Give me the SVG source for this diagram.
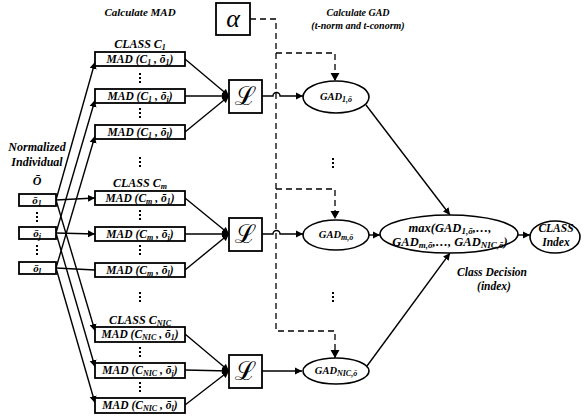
<svg xmlns="http://www.w3.org/2000/svg" width="586" height="419" viewBox="0 0 586 419">
<defs>
<marker id="ah" markerWidth="8" markerHeight="8" refX="7" refY="4" orient="auto" markerUnits="userSpaceOnUse">
<path d="M0,0.5 L7,4 L0,7.5 Z" fill="#000"/>
</marker>
<style>
text{font-family:'Liberation Serif','DejaVu Serif','Noto Serif',serif;font-weight:bold;font-style:italic;fill:#000}
.lbl{font-size:11px}
.mad{font-size:11.5px;text-anchor:middle}
.sub{font-size:8px}
.box{fill:#fff;stroke:#000;stroke-width:1.8}
.ell{fill:#fff;stroke:#000;stroke-width:1.6}
.ln{fill:none;stroke:#000;stroke-width:1.4}
.dash{fill:none;stroke:#000;stroke-width:1.3;stroke-dasharray:6,4}
.dots{stroke:#000;stroke-width:2;stroke-dasharray:2,2}
</style>
</defs>
<rect width="586" height="419" fill="#fff"/>

<!-- headings -->
<text class="lbl" x="140" y="16" text-anchor="middle">Calculate MAD</text>
<text class="lbl" x="358" y="16" text-anchor="middle" style="font-size:10px">Calculate GAD</text>
<text class="lbl" x="358" y="29" text-anchor="middle" style="font-size:10px">(t-norm and t-conorm)</text>
<text class="lbl" x="37" y="151" text-anchor="middle" style="font-size:12px">Normalized</text>
<text class="lbl" x="37" y="166" text-anchor="middle" style="font-size:12px">Individual</text>
<text class="lbl" x="37" y="185" text-anchor="middle" style="font-size:12px">Ō</text>
<text class="lbl" x="492" y="276" text-anchor="middle" style="font-size:11.5px">Class Decision</text>
<text class="lbl" x="494" y="290" text-anchor="middle" style="font-size:11.5px">(index)</text>

<!-- dots -->
<g id="dots">
<line class="dots" x1="37" y1="212" x2="37" y2="224"/>
<line class="dots" x1="37" y1="245" x2="37" y2="257"/>
<line class="dots" x1="140" y1="73" x2="140" y2="85"/>
<line class="dots" x1="140" y1="108" x2="140" y2="120"/>
<line class="dots" x1="140" y1="157" x2="140" y2="169"/>
<line class="dots" x1="140" y1="210" x2="140" y2="222"/>
<line class="dots" x1="140" y1="245" x2="140" y2="257"/>
<line class="dots" x1="140" y1="292" x2="140" y2="304"/>
<line class="dots" x1="140" y1="347" x2="140" y2="359"/>
<line class="dots" x1="140" y1="382" x2="140" y2="394"/>
<line class="dots" x1="333" y1="158" x2="333" y2="170"/>
<line class="dots" x1="333" y1="292" x2="333" y2="304"/>
</g>

<!-- connectors -->
<g id="connectors">
<line class="ln" x1="56" y1="200" x2="95" y2="62" marker-end="url(#ah)"/>
<line class="ln" x1="56" y1="233" x2="95" y2="100" marker-end="url(#ah)"/>
<line class="ln" x1="56" y1="268" x2="95" y2="136" marker-end="url(#ah)"/>
<line class="ln" x1="56" y1="200" x2="95" y2="198" marker-end="url(#ah)"/>
<line class="ln" x1="56" y1="233" x2="95" y2="234" marker-end="url(#ah)"/>
<line class="ln" x1="56" y1="268" x2="95" y2="270"/>
<line class="ln" x1="56" y1="200" x2="95" y2="331" marker-end="url(#ah)"/>
<line class="ln" x1="56" y1="233" x2="95" y2="367" marker-end="url(#ah)"/>
<line class="ln" x1="56" y1="268" x2="95" y2="403" marker-end="url(#ah)"/>

<line class="ln" x1="185" y1="59" x2="229" y2="96" marker-end="url(#ah)"/>
<line class="ln" x1="185" y1="96" x2="229" y2="96" marker-end="url(#ah)"/>
<line class="ln" x1="185" y1="132" x2="229" y2="96" marker-end="url(#ah)"/>
<line class="ln" x1="185" y1="198" x2="229" y2="234" marker-end="url(#ah)"/>
<line class="ln" x1="185" y1="234" x2="229" y2="234" marker-end="url(#ah)"/>
<line class="ln" x1="185" y1="270" x2="229" y2="234" marker-end="url(#ah)"/>
<line class="ln" x1="185" y1="334" x2="229" y2="371" marker-end="url(#ah)"/>
<line class="ln" x1="185" y1="370" x2="229" y2="371" marker-end="url(#ah)"/>
<line class="ln" x1="185" y1="405" x2="229" y2="371" marker-end="url(#ah)"/>

<path class="ln" d="M262,96 H273 a3.5,3.5 0 0 1 7,0 H303" marker-end="url(#ah)"/>
<path class="ln" d="M262,234 H273 a3.5,3.5 0 0 1 7,0 H303" marker-end="url(#ah)"/>
<path class="ln" d="M262,371 H302" marker-end="url(#ah)"/>

<path class="dash" d="M250,19 H276 V331 H335 V358"/>
<path class="dash" d="M276,53 H335 V81"/>
<path class="dash" d="M276,189 H335 V219"/>
<path d="M330.5,73 L339.5,73 L335,81 Z" fill="#000"/>
<path d="M330.5,211 L339.5,211 L335,219 Z" fill="#000"/>
<path d="M330.5,350 L339.5,350 L335,358 Z" fill="#000"/>

<line class="ln" x1="366" y1="105" x2="450" y2="215" marker-end="url(#ah)"/>
<line class="ln" x1="369" y1="235" x2="380" y2="235" marker-end="url(#ah)"/>
<line class="ln" x1="367" y1="366" x2="450" y2="253" marker-end="url(#ah)"/>
<line class="ln" x1="518" y1="235" x2="530" y2="235" marker-end="url(#ah)"/>
</g>

<!-- inputs -->
<g id="in-o1"><rect class="box" x="19" y="194" width="37" height="12"/><text class="lbl" x="37" y="204" text-anchor="middle">ō<tspan class="sub" dy="2">1</tspan></text></g>
<g id="in-oj"><rect class="box" x="19" y="227" width="37" height="12"/><text class="lbl" x="37" y="237" text-anchor="middle">ō<tspan class="sub" dy="2">j</tspan></text></g>
<g id="in-ol"><rect class="box" x="19" y="262" width="37" height="12"/><text class="lbl" x="37" y="272" text-anchor="middle">ō<tspan class="sub" dy="2">l</tspan></text></g>

<!-- class C1 -->
<text class="lbl" x="140" y="48" text-anchor="middle" style="font-size:12px">CLASS C<tspan class="sub" dy="2">1</tspan></text>
<g id="mad-c1-o1"><rect class="box" x="95" y="52" width="90" height="14"/><text class="mad" x="140" y="63">MAD (C<tspan class="sub" dy="2">1</tspan><tspan dy="-2"> , ō</tspan><tspan class="sub" dy="2">1</tspan><tspan dy="-2">)</tspan></text></g>
<g id="mad-c1-oj"><rect class="box" x="95" y="89" width="90" height="14"/><text class="mad" x="140" y="100">MAD (C<tspan class="sub" dy="2">1</tspan><tspan dy="-2"> , ō</tspan><tspan class="sub" dy="2">j</tspan><tspan dy="-2">)</tspan></text></g>
<g id="mad-c1-ol"><rect class="box" x="95" y="125" width="90" height="14"/><text class="mad" x="140" y="136">MAD (C<tspan class="sub" dy="2">1</tspan><tspan dy="-2"> , ō</tspan><tspan class="sub" dy="2">l</tspan><tspan dy="-2">)</tspan></text></g>

<!-- class Cm -->
<text class="lbl" x="140" y="187" text-anchor="middle" style="font-size:12px">CLASS C<tspan class="sub" dy="2">m</tspan></text>
<g id="mad-cm-o1"><rect class="box" x="95" y="191" width="90" height="14"/><text class="mad" x="140" y="202">MAD (C<tspan class="sub" dy="2">m</tspan><tspan dy="-2"> , ō</tspan><tspan class="sub" dy="2">1</tspan><tspan dy="-2">)</tspan></text></g>
<g id="mad-cm-oj"><rect class="box" x="95" y="227" width="90" height="14"/><text class="mad" x="140" y="238">MAD (C<tspan class="sub" dy="2">m</tspan><tspan dy="-2"> , ō</tspan><tspan class="sub" dy="2">j</tspan><tspan dy="-2">)</tspan></text></g>
<g id="mad-cm-ol"><rect class="box" x="95" y="263" width="90" height="14"/><text class="mad" x="140" y="274">MAD (C<tspan class="sub" dy="2">m</tspan><tspan dy="-2"> , ō</tspan><tspan class="sub" dy="2">l</tspan><tspan dy="-2">)</tspan></text></g>

<!-- class CNIC -->
<text class="lbl" x="140" y="324" text-anchor="middle" style="font-size:12px">CLASS C<tspan class="sub" dy="2">NIC</tspan></text>
<g id="mad-cnic-o1"><rect class="box" x="95" y="327" width="90" height="15"/><text class="mad" x="140" y="338">MAD (C<tspan class="sub" dy="2">NIC</tspan><tspan dy="-2"> , ō</tspan><tspan class="sub" dy="2">1</tspan><tspan dy="-2">)</tspan></text></g>
<g id="mad-cnic-oj"><rect class="box" x="95" y="363" width="90" height="15"/><text class="mad" x="140" y="374">MAD (C<tspan class="sub" dy="2">NIC</tspan><tspan dy="-2"> , ō</tspan><tspan class="sub" dy="2">j</tspan><tspan dy="-2">)</tspan></text></g>
<g id="mad-cnic-ol"><rect class="box" x="95" y="398" width="90" height="15"/><text class="mad" x="140" y="409">MAD (C<tspan class="sub" dy="2">NIC</tspan><tspan dy="-2"> , ō</tspan><tspan class="sub" dy="2">l</tspan><tspan dy="-2">)</tspan></text></g>

<!-- L boxes -->
<g id="L1"><rect class="box" x="229" y="80" width="33" height="33" stroke-width="1.5"/><text x="245.5" y="105" text-anchor="middle" style="font-size:26px">ℒ</text></g>
<g id="Lm"><rect class="box" x="229" y="218" width="33" height="33" stroke-width="1.5"/><text x="245.5" y="243" text-anchor="middle" style="font-size:26px">ℒ</text></g>
<g id="Lnic"><rect class="box" x="229" y="355" width="33" height="33" stroke-width="1.5"/><text x="245.5" y="380" text-anchor="middle" style="font-size:26px">ℒ</text></g>

<!-- alpha -->
<g id="alpha"><rect class="box" x="216" y="3" width="34" height="32" stroke-width="1.5"/><text x="233" y="27" text-anchor="middle" style="font-size:26px;font-weight:normal">α</text></g>

<!-- GAD ellipses -->
<g id="gad1"><ellipse class="ell" cx="336" cy="97" rx="33" ry="16"/><text class="lbl" x="336" y="100" text-anchor="middle" style="font-size:10.5px">GAD<tspan class="sub" dy="2">1,ō</tspan></text></g>
<g id="gadm"><ellipse class="ell" cx="336" cy="235" rx="33" ry="15"/><text class="lbl" x="336" y="238" text-anchor="middle" style="font-size:10.5px">GAD<tspan class="sub" dy="2">m,ō</tspan></text></g>
<g id="gadnic"><ellipse class="ell" cx="336" cy="371" rx="33" ry="13"/><text class="lbl" x="336" y="374" text-anchor="middle" style="font-size:10.5px">GAD<tspan class="sub" dy="2">NIC,ō</tspan></text></g>

<!-- max -->
<g id="max"><ellipse class="ell" cx="449" cy="234" rx="69" ry="19"/>
<text class="lbl" x="450" y="232" text-anchor="middle" style="font-size:12.5px">max(GAD<tspan class="sub" dy="2" style="font-size:9px">1,ō</tspan><tspan dy="-2">,…,</tspan></text>
<text class="lbl" x="450" y="246" text-anchor="middle" style="font-size:12.5px">GAD<tspan class="sub" dy="2" style="font-size:9px">m,ō</tspan><tspan dy="-2">,…, GAD</tspan><tspan class="sub" dy="2" style="font-size:9px">NIC,ō</tspan><tspan dy="-2">)</tspan></text></g>

<!-- class index -->
<g id="classindex"><ellipse class="ell" cx="555" cy="237" rx="25" ry="16"/>
<text class="lbl" x="556" y="232" text-anchor="middle" style="font-size:11.5px">CLASS</text>
<text class="lbl" x="556" y="246" text-anchor="middle" style="font-size:11.5px">Index</text></g>
</svg>
